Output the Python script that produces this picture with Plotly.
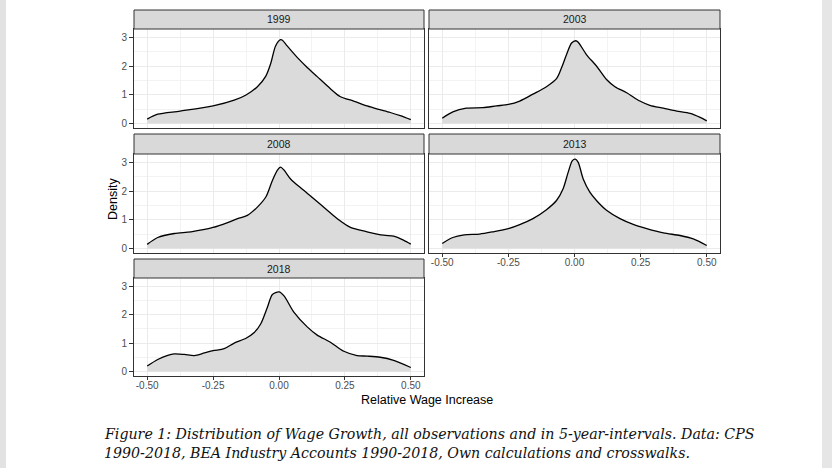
import plotly.graph_objects as go

W, H = 832, 468

years = ["1999", "2003", "2008", "2013", "2018"]

x_1999 = [-0.5, -0.46, -0.375, -0.25, -0.17, -0.125, -0.082, -0.05, -0.031, -0.013, 0.006, 0.013,
          0.031, 0.069, 0.107, 0.145, 0.195, 0.233, 0.283, 0.334, 0.374, 0.422, 0.46, 0.5]
y_1999 = [0.15, 0.32, 0.43, 0.61, 0.81, 0.99, 1.28, 1.65, 2.1, 2.7, 2.92, 2.9,
          2.7, 2.3, 1.95, 1.63, 1.21, 0.93, 0.78, 0.61, 0.5, 0.38, 0.27, 0.13]

x_2003 = [-0.5, -0.46, -0.409, -0.346, -0.295, -0.25, -0.207, -0.157, -0.106, -0.068, -0.049, -0.03,
          -0.011, 0.005, 0.014, 0.045, 0.083, 0.121, 0.153, 0.197, 0.247, 0.285, 0.336, 0.386,
          0.437, 0.475, 0.5]
y_2003 = [0.18, 0.40, 0.53, 0.55, 0.61, 0.66, 0.78, 1.02, 1.28, 1.56, 1.94, 2.4,
          2.8, 2.88, 2.83, 2.4, 2.0, 1.53, 1.28, 1.07, 0.78, 0.63, 0.53, 0.43,
          0.35, 0.21, 0.09]

x_2008 = [-0.5, -0.46, -0.397, -0.334, -0.25, -0.195, -0.157, -0.12, -0.082, -0.05, -0.025, -0.006,
          0.006, 0.019, 0.044, 0.082, 0.132, 0.183, 0.22, 0.271, 0.334, 0.397, 0.435, 0.472, 0.5]
y_2008 = [0.14, 0.38, 0.52, 0.58, 0.73, 0.9, 1.04, 1.15, 1.44, 1.79, 2.37, 2.73,
          2.83, 2.73, 2.42, 2.11, 1.73, 1.33, 1.04, 0.73, 0.58, 0.46, 0.43, 0.29, 0.15]

x_2013 = [-0.5, -0.46, -0.417, -0.359, -0.308, -0.25, -0.207, -0.157, -0.106, -0.068, -0.043, -0.024,
          -0.008, 0.003, 0.014, 0.033, 0.058, 0.083, 0.121, 0.172, 0.222, 0.273, 0.336, 0.399,
          0.449, 0.5]
y_2013 = [0.17, 0.38, 0.47, 0.5, 0.58, 0.69, 0.83, 1.04, 1.35, 1.67, 2.08, 2.65,
          3.06, 3.11, 3.0, 2.42, 1.96, 1.67, 1.33, 1.04, 0.84, 0.69, 0.54, 0.45,
          0.33, 0.1]

x_2018 = [-0.5, -0.46, -0.422, -0.397, -0.359, -0.321, -0.283, -0.25, -0.208, -0.17, -0.125, -0.094,
          -0.069, -0.044, -0.025, 0.0, 0.019, 0.057, 0.107, 0.145, 0.195, 0.246, 0.296, 0.334,
          0.384, 0.435, 0.5]
y_2018 = [0.19, 0.42, 0.57, 0.62, 0.6, 0.56, 0.65, 0.73, 0.8, 1.0, 1.17, 1.37,
          1.68, 2.26, 2.71, 2.8, 2.66, 2.08, 1.57, 1.28, 1.03, 0.71, 0.56, 0.54,
          0.5, 0.39, 0.14]

x_tickvals = [-0.5, -0.25, 0.0, 0.25, 0.5]
x_ticktext = ["-0.50", "-0.25", "0.00", "0.25", "0.50"]
x_minor = [-0.375, -0.125, 0.125, 0.375]
y_tickvals = [0, 1, 2, 3]
y_ticktext = ["0", "1", "2", "3"]
y_minor = [0.5, 1.5, 2.5]

x_title = "Relative Wage Increase"
y_title = "Density"
caption_1 = "Figure 1: Distribution of Wage Growth, all observations and in 5-year-intervals. Data: CPS"
caption_2 = "1990-2018, BEA Industry Accounts 1990-2018, Own calculations and crosswalks."

series = [(x_1999, y_1999), (x_2003, y_2003), (x_2008, y_2008), (x_2013, y_2013), (x_2018, y_2018)]

# layout geometry (pixels)
cols = [(134, 424), (429, 720)]
rows = [(29, 128, 10), (154, 253, 134), (278, 376, 259)]  # plot top, plot bottom, strip top
pos = [(0, 0), (0, 1), (1, 0), (1, 1), (2, 0)]
x_label_panels = {3, 4}

def px(v):
    return v / W

def py(v):
    return 1 - v / H

fig = go.Figure()
shapes = []
annotations = []

font_family = "Liberation Sans, Arial, sans-serif"
tick_font = dict(size=10, color="#4D4D4D", family=font_family)

for i, (yr, (xs, ys)) in enumerate(zip(years, series)):
    r, c = pos[i]
    x0, x1 = cols[c]
    t, b, st = rows[r]
    n = "" if i == 0 else str(i + 1)
    fig.add_trace(go.Scatter(
        x=xs, y=ys, mode="lines", line=dict(color="black", width=1.3, shape="spline", smoothing=0.8),
        fill="tozeroy", fillcolor="#DBDBDB", xaxis="x" + n, yaxis="y" + n, showlegend=False,
        hoverinfo="skip"))
    show_x = i in x_label_panels
    show_y = c == 0
    fig.layout["xaxis" + n] = dict(
        domain=[px(x0), px(x1)], anchor="y" + n, range=[-0.55, 0.55],
        tickvals=x_tickvals, ticktext=x_ticktext, showticklabels=show_x,
        ticks="outside" if show_x else "", ticklen=3, tickwidth=1, tickcolor="#333333",
        tickfont=tick_font, ticklabelstandoff=-3,
        showgrid=True, gridcolor="#EBEBEB", gridwidth=1, zeroline=False,
        minor=dict(tickvals=x_minor, showgrid=True, gridcolor="#F3F3F3", gridwidth=0.6),
        showline=True, linecolor="#333333", linewidth=1, mirror=True, fixedrange=True)
    fig.layout["yaxis" + n] = dict(
        domain=[py(b), py(t)], anchor="x" + n, range=[-0.16, 3.29],
        tickvals=y_tickvals, ticktext=y_ticktext, showticklabels=show_y,
        ticks="outside" if show_y else "", ticklen=4, tickwidth=1, tickcolor="#333333",
        tickfont=tick_font,
        showgrid=True, gridcolor="#EBEBEB", gridwidth=1, zeroline=False,
        minor=dict(tickvals=y_minor, showgrid=True, gridcolor="#F3F3F3", gridwidth=0.6),
        showline=True, linecolor="#333333", linewidth=1, mirror=True, fixedrange=True)
    # strip
    shapes.append(dict(type="rect", xref="paper", yref="paper", x0=px(x0), x1=px(x1),
                       y0=py(t), y1=py(st), fillcolor="#D9D9D9",
                       line=dict(color="#333333", width=1)))
    annotations.append(dict(text=yr, xref="paper", yref="paper", x=px((x0 + x1) / 2),
                            y=py((t + st) / 2), showarrow=False, xanchor="center", yanchor="middle",
                            font=dict(size=10.5, color="#1A1A1A", family=font_family)))

# viewer edges
shapes.append(dict(type="rect", xref="paper", yref="paper", x0=0, x1=px(6), y0=0, y1=1,
                   fillcolor="#E2E2E2", line=dict(width=0), layer="below"))
shapes.append(dict(type="rect", xref="paper", yref="paper", x0=px(822), x1=1, y0=0, y1=1,
                   fillcolor="#E6E6E6", line=dict(width=0), layer="below"))

annotations.append(dict(text=x_title, xref="paper", yref="paper", x=px(427), y=py(400),
                        showarrow=False, xanchor="center", yanchor="middle",
                        font=dict(size=12.5, color="black", family=font_family)))
annotations.append(dict(text=y_title, xref="paper", yref="paper", x=px(113), y=py(199),
                        showarrow=False, xanchor="center", yanchor="middle", textangle=-90,
                        font=dict(size=12.5, color="black", family=font_family)))
cap_font = dict(size=14.2, color="#111111", family="DejaVu Serif, Liberation Serif, serif")
annotations.append(dict(text="<i>" + caption_1 + "</i>", xref="paper", yref="paper", x=px(102),
                        y=py(434), showarrow=False, xanchor="left", yanchor="middle", font=cap_font))
annotations.append(dict(text="<i>" + caption_2 + "</i>", xref="paper", yref="paper", x=px(102),
                        y=py(453), showarrow=False, xanchor="left", yanchor="middle", font=cap_font))

fig.update_layout(width=W, height=H, margin=dict(l=0, r=0, t=0, b=0),
                  paper_bgcolor="white", plot_bgcolor="white",
                  shapes=shapes, annotations=annotations, showlegend=False)

fig.write_html("out.html", config={"displayModeBar": False},
               post_script="document.body.style.margin='0px';document.body.style.overflow='hidden';")
